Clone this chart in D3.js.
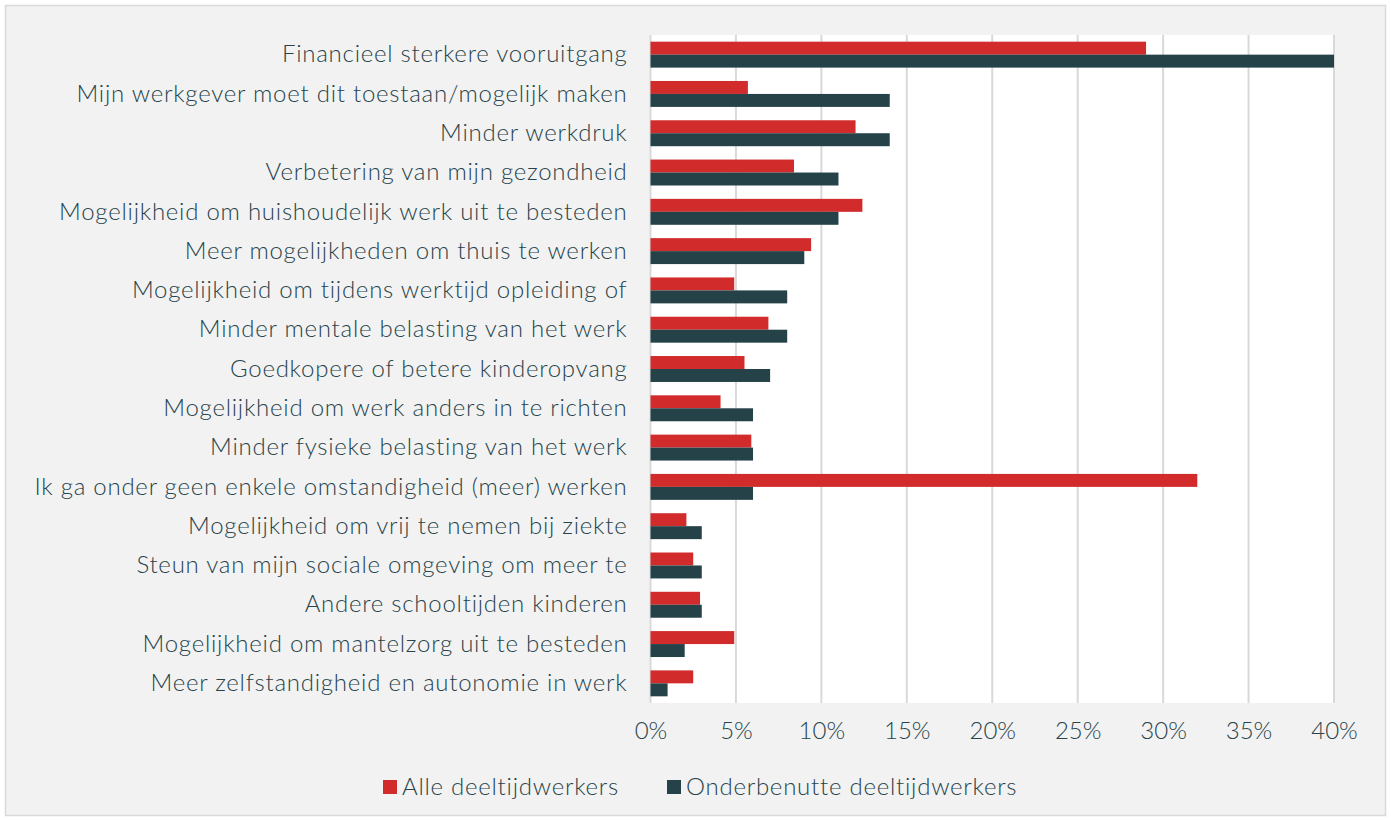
<!DOCTYPE html>
<html>
<head>
<meta charset="utf-8">
<script src="https://cdn.jsdelivr.net/npm/d3@7"></script>
<style>
  body { margin: 0; background: #fff; }
  svg { display: block; font-family: Lato, "Noto Sans", sans-serif; }
</style>
</head>
<body>
<div id="chart"></div>
<script>
const categories = [
  "Financieel sterkere vooruitgang",
  "Mijn werkgever moet dit toestaan/mogelijk maken",
  "Minder werkdruk",
  "Verbetering van mijn gezondheid",
  "Mogelijkheid om huishoudelijk werk uit te besteden",
  "Meer mogelijkheden om thuis te werken",
  "Mogelijkheid om tijdens werktijd opleiding of",
  "Minder mentale belasting van het werk",
  "Goedkopere of betere kinderopvang",
  "Mogelijkheid om werk anders in te richten",
  "Minder fysieke belasting van het werk",
  "Ik ga onder geen enkele omstandigheid (meer) werken",
  "Mogelijkheid om vrij te nemen bij ziekte",
  "Steun van mijn sociale omgeving om meer te",
  "Andere schooltijden kinderen",
  "Mogelijkheid om mantelzorg uit te besteden",
  "Meer zelfstandigheid en autonomie in werk"
];
const seriesNames = ["Alle deeltijdwerkers", "Onderbenutte deeltijdwerkers"];
const alle = [29, 5.7, 12, 8.4, 12.4, 9.4, 4.9, 6.9, 5.5, 4.1, 5.9, 32, 2.1, 2.5, 2.9, 4.9, 2.5];
const onderbenut = [40, 14, 14, 11, 11, 9, 8, 8, 7, 6, 6, 6, 3, 3, 3, 2, 1];
const ticks = [0, 0.05, 0.10, 0.15, 0.20, 0.25, 0.30, 0.35, 0.40];

const width = 1391, height = 821;
const plot = {left: 650.5, right: 1334, top: 35, bottom: 703};
const colors = ["#d22b2b", "#254249"];
const textColor = "#27434b";

const svg = d3.select("#chart").append("svg")
    .attr("width", width)
    .attr("height", height);

// outer frame
svg.append("rect")
    .attr("x", 5.5).attr("y", 5.5)
    .attr("width", width - 11).attr("height", height - 11)
    .attr("fill", "#f2f2f2")
    .attr("stroke", "#d9d9d9")
    .attr("stroke-width", 1.5);

svg.append("rect")
    .attr("x", plot.left).attr("y", plot.top)
    .attr("width", plot.right - plot.left).attr("height", plot.bottom - plot.top)
    .attr("fill", "#fff");

const x = d3.scaleLinear().domain([0, 0.4]).range([plot.left, plot.right]);
const y = d3.scaleBand()
    .domain(categories)
    .range([plot.top, plot.bottom])
    .paddingInner(0.34)
    .paddingOuter(0.17);
const ySub = d3.scaleBand().domain(seriesNames).range([0, y.bandwidth()]);

// gridlines
svg.append("g")
  .selectAll("line")
  .data(ticks)
  .join("line")
    .attr("x1", d => x(d)).attr("x2", d => x(d))
    .attr("y1", plot.top).attr("y2", plot.bottom)
    .attr("stroke", "#d9d9d9")
    .attr("stroke-width", 2);

const rows = categories.map((c, i) => ({name: c, values: [alle[i], onderbenut[i]]}));

svg.append("g")
  .selectAll("g")
  .data(rows)
  .join("g")
    .attr("transform", d => `translate(0,${y(d.name)})`)
  .selectAll("rect")
  .data(d => d.values.map((v, j) => ({key: seriesNames[j], value: v, j: j})))
  .join("rect")
    .attr("x", x(0))
    .attr("y", d => ySub(d.key))
    .attr("width", d => x(d.value / 100) - x(0))
    .attr("height", ySub.bandwidth())
    .attr("fill", d => colors[d.j]);

const labelStyle = sel => sel
    .attr("fill", textColor)
    .style("font-size", "24px")
    .style("font-weight", 300)
    .style("letter-spacing", "0.75px")
    .style("font-family", "Lato, 'Noto Sans', sans-serif");

// category labels
const yAxis = g => g
    .attr("transform", `translate(${plot.left},0)`)
    .call(d3.axisLeft(y).tickSize(0).tickPadding(23))
    .call(g => g.select(".domain").remove())
    .call(g => g.selectAll("text").call(labelStyle));
svg.append("g").call(yAxis);

// x axis labels
const xAxis = g => g
    .attr("transform", `translate(0,${plot.bottom})`)
    .call(d3.axisBottom(x).tickValues(ticks).tickFormat(d3.format(".0%")).tickSize(0).tickPadding(19))
    .call(g => g.select(".domain").remove())
    .call(g => g.selectAll("text").call(labelStyle).style("letter-spacing", "0px"));
svg.append("g").call(xAxis);

// legend
const legendX = [383, 667];
const legend = svg.append("g")
  .selectAll("g")
  .data(seriesNames)
  .join("g")
    .attr("transform", (d, i) => `translate(${legendX[i]},787)`);
legend.append("rect")
    .attr("x", 0).attr("y", -7)
    .attr("width", 14).attr("height", 14)
    .attr("fill", (d, i) => colors[i]);
legend.append("text")
    .attr("x", 19).attr("y", 0)
    .attr("dy", "0.35em")
    .call(labelStyle)
    .text(d => d);
</script>
</body>
</html>
